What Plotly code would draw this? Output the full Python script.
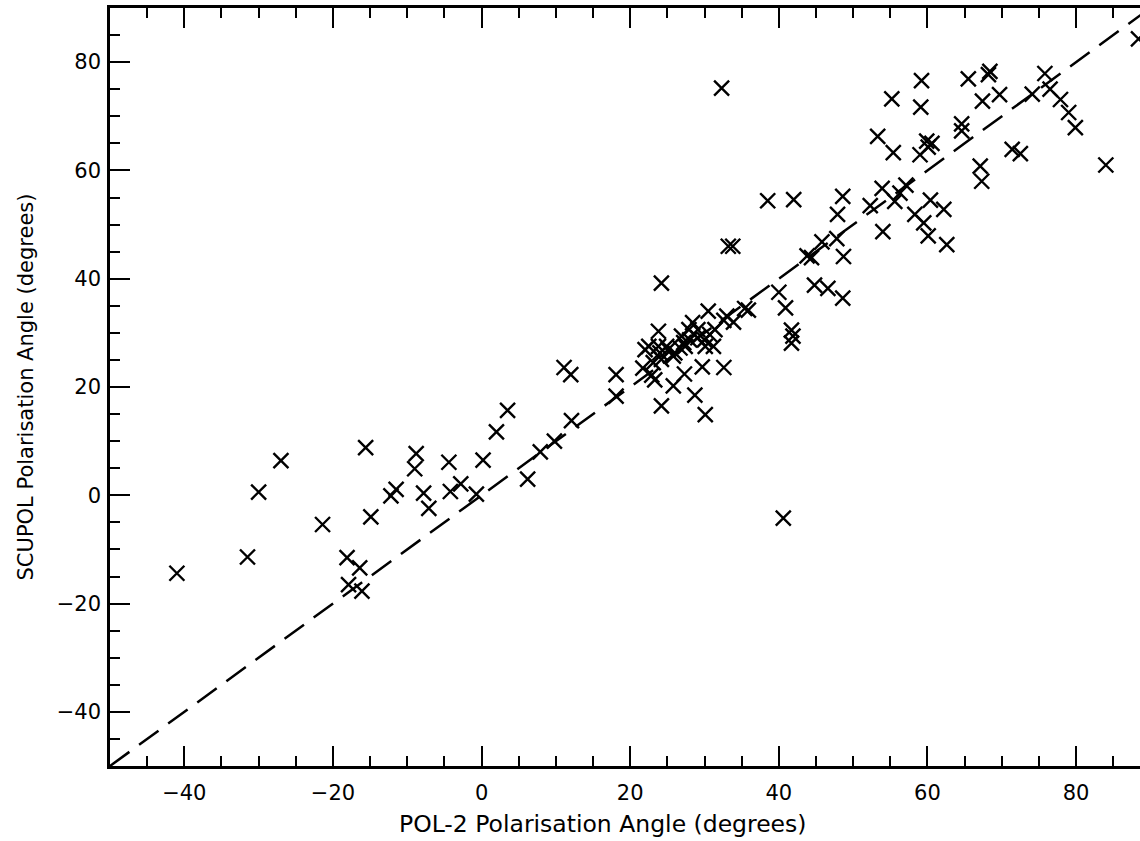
import plotly.graph_objects as go

# POL-2 polarisation angle (degrees)
pol2 = [
    -41.0, -31.5, -30.0, -27.0, -21.4, -18.1, -16.4, -17.9, -16.1, -15.6,
    -14.9, -12.2, -11.5, -9.0, -8.8, -7.8, -7.1, -4.4, -4.2, -2.8,
    -0.7, 0.2, 2.0, 3.5, 6.2, 7.9, 9.8, 12.1, 11.1, 12.0,
    18.1, 18.1,
    24.2, 24.2, 30.1, 28.7, 25.8, 23.3, 22.9, 21.7, 27.3, 29.7,
    32.6, 23.8, 22.5, 22.0, 23.8, 23.1, 24.2, 25.1, 26.0, 27.4,
    28.0, 29.1, 30.0, 30.7, 31.4, 29.1, 28.4, 30.5, 32.6, 33.0,
    33.9, 24.9, 25.8, 26.7, 27.2, 24.0, 30.1, 31.2, 27.9, 26.9,
    35.4, 35.9, 40.0, 40.9, 41.7, 41.9, 41.7, 40.6, 33.2, 33.8,
    32.3,
    38.5, 42.0, 48.6, 47.9, 52.3, 53.9, 55.6, 56.3, 57.1, 60.4,
    62.2, 58.3, 59.5, 60.1, 62.6, 54.0, 44.4, 43.8, 45.8, 47.8,
    48.7, 44.8, 46.6, 48.6, 53.3, 55.4, 59.0, 59.9, 60.6, 60.1,
    59.2, 59.1, 55.2, 65.5, 67.4, 68.4, 68.2, 69.7, 64.6, 64.6,
    67.1, 67.3, 71.4, 72.5, 74.1, 75.8, 76.5, 77.9, 79.0, 79.9,
    84.0, 88.4,
]

# SCUPOL polarisation angle (degrees)
scupol = [
    -14.4, -11.4, 0.6, 6.4, -5.4, -11.5, -13.4, -16.5, -17.7, 8.8,
    -4.0, -0.1, 1.1, 4.9, 7.7, 0.4, -2.4, 6.1, 0.7, 2.1,
    0.2, 6.5, 11.7, 15.7, 3.0, 8.0, 10.0, 13.8, 23.6, 22.3,
    22.3, 18.3,
    39.2, 16.5, 14.9, 18.5, 20.2, 21.3, 22.2, 23.5, 22.4, 23.7,
    23.6, 30.3, 27.5, 26.9, 27.5, 24.5, 25.1, 26.9, 26.3, 27.5,
    28.7, 29.1, 28.7, 29.7, 30.6, 30.6, 31.9, 34.0, 32.3, 33.1,
    32.0, 27.5, 25.7, 27.2, 28.2, 26.3, 27.5, 27.5, 30.6, 29.4,
    34.5, 34.2, 37.5, 34.6, 30.5, 29.4, 28.1, -4.2, 46.0, 46.0,
    75.2,
    54.4, 54.6, 55.2, 51.9, 53.5, 56.7, 54.3, 55.8, 57.3, 54.5,
    52.8, 51.9, 50.3, 47.9, 46.3, 48.7, 43.9, 44.2, 46.8, 47.4,
    44.1, 38.8, 38.2, 36.4, 66.3, 63.3, 62.9, 65.4, 65.0, 64.3,
    76.6, 71.7, 73.2, 76.9, 72.8, 78.3, 77.7, 74.0, 68.6, 67.3,
    60.8, 58.0, 63.9, 63.1, 74.1, 77.9, 75.0, 73.1, 70.7, 67.9,
    61.0, 84.3,
]

# one-to-one reference line
identity = [-50, 90]

x_range = [-50, 88.6]
y_range = [-50, 90]
tick_vals = [-40, -20, 0, 20, 40, 60, 80]

fig = go.Figure()
fig.add_trace(go.Scatter(
    x=identity, y=identity, mode="lines",
    line=dict(color="black", width=2.5, dash="24px,12px"),
    hoverinfo="skip", showlegend=False,
))
fig.add_trace(go.Scatter(
    x=pol2, y=scupol, mode="markers",
    marker=dict(symbol="x-thin", size=15, color="black",
                line=dict(color="black", width=2.4)),
    showlegend=False,
))

tick_font = dict(family="DejaVu Sans, sans-serif", size=21, color="black")
xtitle_font = dict(family="DejaVu Sans, sans-serif", size=23.5, color="black")
ytitle_font = dict(family="DejaVu Sans, sans-serif", size=21, color="black")

axis_common = dict(
    showgrid=False, zeroline=False, showline=True, linecolor="black", linewidth=2.5,
    ticks="inside", ticklen=20, tickwidth=2.2, tickcolor="black",
    tickvals=tick_vals, tickfont=tick_font,
    minor=dict(dtick=5, ticks="inside", ticklen=10, tickwidth=2, tickcolor="black"),
)

fig.update_xaxes(range=x_range, mirror="ticks", ticklabelstandoff=6, **axis_common)
fig.update_yaxes(range=y_range, mirror=False, ticklabelstandoff=2,
                 title=dict(text="SCUPOL Polarisation Angle (degrees)", font=ytitle_font, standoff=18),
                 **axis_common)

fig.add_annotation(
    text="POL-2 Polarisation Angle (degrees)", font=xtitle_font,
    xref="paper", yref="paper", x=0.479, y=-0.055,
    xanchor="center", yanchor="top", showarrow=False,
)

fig.update_layout(
    width=1140, height=841,
    margin=dict(l=110, r=0, t=8, b=75),
    plot_bgcolor="white", paper_bgcolor="white",
    font=ytitle_font,
)

fig.write_html(
    "out.html",
    config={"displayModeBar": False},
    post_script="document.body.style.margin='0';document.body.style.overflow='hidden';",
)
